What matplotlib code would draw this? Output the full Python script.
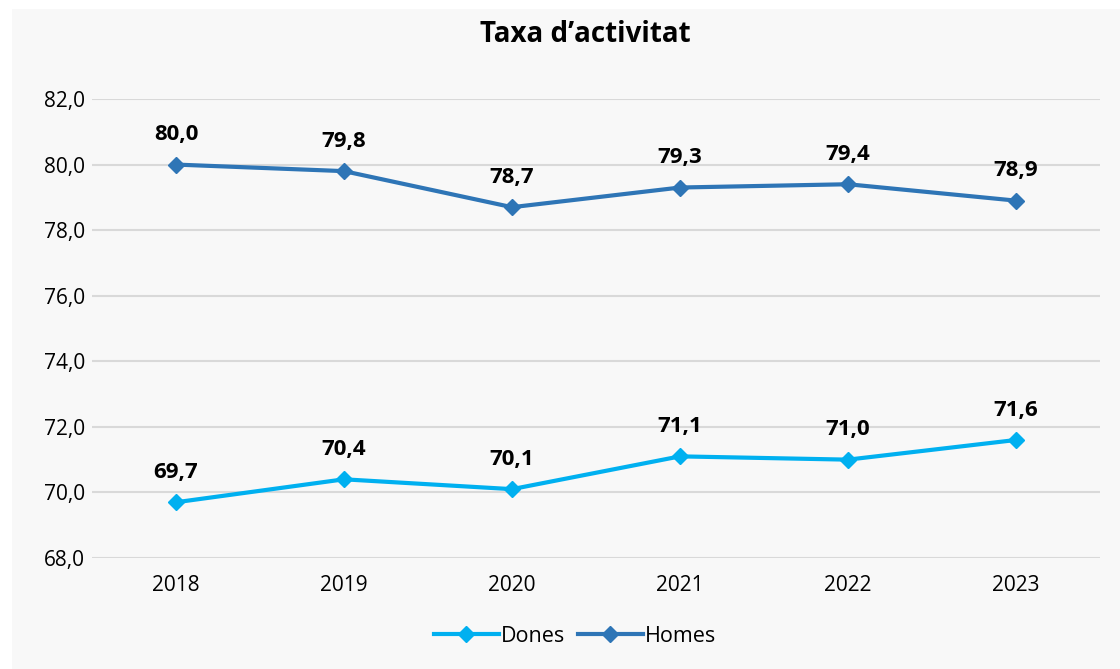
import matplotlib
matplotlib.use('Agg')
import matplotlib.pyplot as plt
import matplotlib.patches as mpatches

plt.rcParams['font.family'] = ['Open Sans', 'DejaVu Sans']

years = ['2018', '2019', '2020', '2021', '2022', '2023']
dones = [69.7, 70.4, 70.1, 71.1, 71.0, 71.6]
homes = [80.0, 79.8, 78.7, 79.3, 79.4, 78.9]

c_dones = '#00b0f0'
c_homes = '#2e75b6'
bg = '#f8f8f8'

fig = plt.figure(figsize=(11.2, 6.69), dpi=100)
fig.patch.set_facecolor('white')
fig.patches.append(mpatches.Rectangle((12/1120, 0), 1, 1 - 9/669, transform=fig.transFigure,
                                      facecolor=bg, edgecolor='none', zorder=-5))

ax = fig.add_axes([92/1120, 1 - 558/669, (1100 - 92)/1120, (558 - 99)/669])
ax.set_facecolor(bg)
x = range(len(years))
ax.plot(x, dones, color=c_dones, lw=3, marker='D', ms=8, label='Dones', zorder=3)
ax.plot(x, homes, color=c_homes, lw=3, marker='D', ms=8, label='Homes', zorder=3)

for xi, v in zip(list(x) * 2, dones + homes):
    ax.annotate(f'{v:.1f}'.replace('.', ','), (xi, v), xytext=(0, 14), textcoords='offset points',
                ha='center', va='bottom', fontsize=16, fontweight='bold')

ax.set_xlim(-0.5, 5.5)
ax.set_ylim(68, 82)
ax.set_yticks(range(68, 83, 2))
ax.set_yticklabels([f'{t},0' for t in range(68, 83, 2)], fontsize=15)
ax.set_xticks(list(x))
ax.set_xticklabels(years, fontsize=15)
ax.grid(axis='y', color='#d9d9d9', lw=1.5)
ax.set_axisbelow(True)
for s in ax.spines.values():
    s.set_visible(False)
ax.tick_params(axis='y', length=0, pad=5)
ax.tick_params(axis='x', length=0, pad=12)

fig.text(585/1120, 1 - 35/669, 'Taxa d\u2019activitat', ha='center', va='center',
         fontsize=20, fontweight='bold')
fig.legend(loc='center', bbox_to_anchor=(575/1120, 1 - 636/669), ncol=2, frameon=False,
           fontsize=15.5, handlelength=3.0, columnspacing=0.6, handletextpad=0.1)

fig.savefig('out.png', dpi=100, facecolor=fig.get_facecolor())
